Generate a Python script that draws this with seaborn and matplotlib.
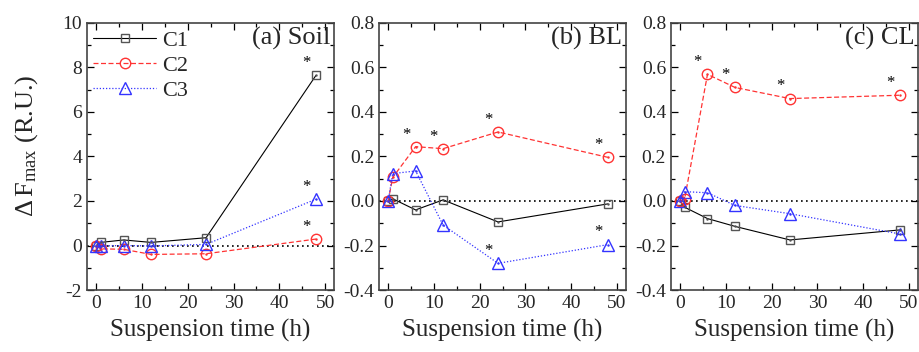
import numpy as np
import pandas as pd
import matplotlib
matplotlib.use("Agg")
import matplotlib.pyplot as plt
import seaborn as sns
from matplotlib.ticker import MultipleLocator

sns.set_theme(style="ticks")
plt.rcParams['font.family'] = ['Liberation Serif', 'DejaVu Serif']
plt.rcParams['mathtext.fontset'] = 'custom'
plt.rcParams['mathtext.rm'] = 'Liberation Serif'
plt.rcParams['mathtext.it'] = 'Liberation Serif'
plt.rcParams['axes.unicode_minus'] = False

time_h = [0, 1, 6, 12, 24, 48]
series_names = ["C1", "C2", "C3"]

soil_c1 = [0.0, 0.14, 0.25, 0.14, 0.35, 7.64]
soil_c2 = [0.0, -0.15, -0.17, -0.40, -0.37, 0.29]
soil_c3 = [0.0, -0.02, 0.0, -0.02, 0.05, 2.08]

bl_c1 = [0.0, 0.01, -0.04, 0.005, -0.094, -0.013]
bl_c2 = [0.0, 0.106, 0.244, 0.235, 0.31, 0.196]
bl_c3 = [0.0, 0.123, 0.135, -0.108, -0.28, -0.196]

cl_c1 = [0.0, -0.028, -0.079, -0.114, -0.175, -0.13]
cl_c2 = [0.0, 0.009, 0.569, 0.51, 0.46, 0.475]
cl_c3 = [0.0, 0.042, 0.037, -0.02, -0.057, -0.148]

panel_titles = ["(a) Soil", "(b) BL", "(c) CL"]
ylims = [(-2, 10), (-0.4, 0.8), (-0.4, 0.8)]
ymajor = [2, 0.2, 0.2]

# significance markers: (series index, time index)
soil_sig = [(0, 5), (2, 5), (1, 5)]
bl_sig = [(1, 2), (1, 3), (1, 4), (1, 5), (2, 4), (2, 5)]
cl_sig = [(1, 2), (1, 3), (1, 4), (1, 5)]

panels = [
    ([soil_c1, soil_c2, soil_c3], soil_sig),
    ([bl_c1, bl_c2, bl_c3], bl_sig),
    ([cl_c1, cl_c2, cl_c3], cl_sig),
]

styles = [
    dict(color="black", mec="#555555", marker="s", ms=6, ls="-", lw=0.8),
    dict(color="#ff3333", mec="#ff3333", marker="o", ms=7.5, ls=(0, (4, 2)), lw=0.9),
    dict(color="#3333ff", mec="#3333ff", marker="^", ms=8, ls=(0, (1, 1.5)), lw=0.9),
]

fig = plt.figure(figsize=(9.19, 3.52), dpi=100)
lefts = [0.0947, 0.4124, 0.730]
width = 0.269
bottom = 0.176
height = 0.759

for i, (vals, sig) in enumerate(panels):
    ax = fig.add_axes([lefts[i], bottom, width, height])
    ax.axhline(0, color="black", ls=(0, (1, 2)), lw=1.2, zorder=1)
    for j, (name, y) in enumerate(zip(series_names, vals)):
        st = styles[j]
        df = pd.DataFrame({"t": time_h, "v": y})
        sns.lineplot(data=df, x="t", y="v", ax=ax, sort=False,
                     color=st["color"], linestyle=st["ls"], linewidth=st["lw"],
                     marker=st["marker"], markersize=st["ms"],
                     markerfacecolor="none", markeredgecolor=st["mec"],
                     markeredgewidth=1.0, label=name, zorder=3)
        ax.plot(time_h, y, ls="none", marker=".", ms=1.5, color=st["mec"], zorder=4)
    for (sj, ti) in sig:
        ax.annotate("*", xy=(time_h[ti], vals[sj][ti]), xytext=(-7, 3),
                    textcoords="offset points", ha="center", va="bottom",
                    fontsize=12, color="black")
    ax.set_xlim(-2, 52)
    ax.set_ylim(*ylims[i])
    ax.xaxis.set_major_locator(MultipleLocator(10))
    ax.xaxis.set_minor_locator(MultipleLocator(5))
    ax.yaxis.set_major_locator(MultipleLocator(ymajor[i]))
    ax.yaxis.set_minor_locator(MultipleLocator(ymajor[i] / 2))
    if i > 0:
        ax.yaxis.set_major_formatter(matplotlib.ticker.FormatStrFormatter("%.1f"))
    ax.tick_params(which="both", direction="in", top=True, right=True,
                   labelsize=14, color="black")
    ax.tick_params(which="major", length=5, width=0.9)
    ax.tick_params(which="minor", length=3, width=0.9)
    for sp in ax.spines.values():
        sp.set_color("#444444")
        sp.set_linewidth(1.2)
    ax.set_xlabel("Suspension time (h)", fontsize=18, labelpad=5)
    ax.set_ylabel("")
    ax.text(0.985, 0.985, panel_titles[i], transform=ax.transAxes, ha="right",
            va="top", fontsize=19)
    if i == 0:
        ax.set_ylabel(r"$\Delta\,\mathrm{F}_{\mathrm{max}}$ (R.U.)", fontsize=19, labelpad=6)
        ax.yaxis.set_label_coords(-0.19, 0.54)
        ax.legend(loc="upper left", bbox_to_anchor=(-0.01, 1.005), frameon=False,
                  fontsize=16, handlelength=2.8, handletextpad=0.3,
                  borderaxespad=0.0, labelspacing=0.2)
    else:
        leg = ax.get_legend()
        if leg is not None:
            leg.remove()

fig.savefig("out.png", dpi=100)
